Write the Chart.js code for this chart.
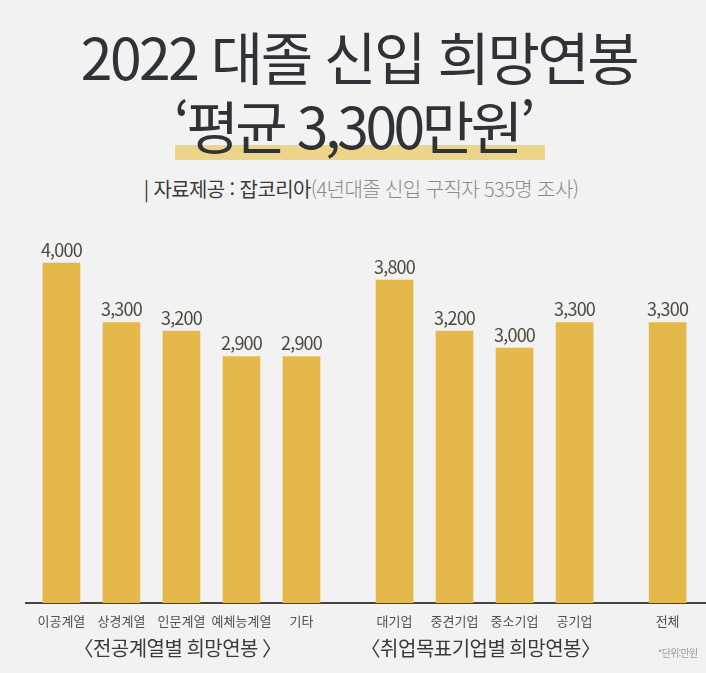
<!DOCTYPE html>
<html lang="ko">
<head>
<meta charset="utf-8">
<script src="https://cdn.jsdelivr.net/npm/chart.js@4/dist/chart.umd.min.js"></script>
<style>
  html, body { margin: 0; padding: 0; background: #f2f2f2; }
  #wrap { position: relative; width: 706px; height: 673px; overflow: hidden; background: #f2f2f2; font-family: "Noto Sans CJK KR", "Noto Sans", sans-serif; }
  .t { position: absolute; left: 0; width: 706px; text-align: center; white-space: nowrap; line-height: 1; }
  #t1 { top: 27px; left: 6px; font-size: 57px; font-weight: 400; color: #2f3337; letter-spacing: -2.5px; z-index: 2; }
  #t2 { top: 96px; left: 0px; font-size: 57px; font-weight: 400; color: #2f3337; letter-spacing: -3.5px; z-index: 2; }
  #hl { position: absolute; left: 175px; top: 145px; width: 370px; height: 15px; background: #ecd588; z-index: 1; }
  #t3 { top: 179px; left: 8px; font-size: 20px; letter-spacing: -0.6px; z-index: 2; }
  #t3 .a { color: #3a3a3a; font-weight: 400; }
  #t3 .b { color: #8a8a8a; font-weight: 300; }
  #cv { position: absolute; left: 0; top: 0; z-index: 3; }
</style>
</head>
<body>
<div id="wrap">
  <div id="hl"></div>
  <div class="t" id="t1">2022 대졸 신입 희망연봉</div>
  <div class="t" id="t2">‘평균 3,300만원’</div>
  <div class="t" id="t3"><span class="a">| 자료제공 : 잡코리아</span><span class="b">(4년대졸 신입 구직자 535명 조사)</span></div>
  <canvas id="cv" width="706" height="673"></canvas>
</div>
<script>
// ---- data ----
const categories = ['이공계열', '상경계열', '인문계열', '예체능계열', '기타', '대기업', '중견기업', '중소기업', '공기업', '전체'];
const values = [4000, 3300, 3200, 2900, 2900, 3800, 3200, 3000, 3300, 3300];
const groupOf = [0, 0, 0, 0, 0, 1, 1, 1, 1, 2];
const groupLabels = ['〈전공계열별 희망연봉 〉', '〈취업목표기업별 희망연봉〉', ''];
const unitNote = '*단위:만원';

// layout helper: category index plus a gap between groups
const GROUP_GAP = 0.55;
const positions = categories.map((c, i) => i + groupOf[i] * GROUP_GAP);

const FONT = '"Noto Sans CJK KR", "Noto Sans", sans-serif';

const labelPlugin = {
  id: 'labels',
  afterDatasetsDraw(chart) {
    const ctx = chart.ctx;
    const meta = chart.getDatasetMeta(0);
    const hasLS = 'letterSpacing' in ctx;
    ctx.save();
    ctx.font = '400 18px ' + FONT;
    ctx.fillStyle = '#4e4a3e';
    ctx.textAlign = 'center';
    ctx.textBaseline = 'bottom';
    if (hasLS) ctx.letterSpacing = '-0.8px';
    meta.data.forEach((bar, i) => {
      ctx.fillText(values[i].toLocaleString('en-US'), bar.x, bar.y - 4);
    });
    // group labels
    const xs = chart.scales.x;
    const area = chart.chartArea;
    ctx.font = '400 20px ' + FONT;
    ctx.fillStyle = '#3a3a3a';
    ctx.textBaseline = 'middle';
    if (hasLS) ctx.letterSpacing = '-0.5px';
    groupLabels.forEach((g, gi) => {
      if (!g) return;
      const idx = positions.filter((p, i) => groupOf[i] === gi);
      const cx = (xs.getPixelForValue(idx[0]) + xs.getPixelForValue(idx[idx.length - 1])) / 2;
      ctx.fillText(g, cx - 4, area.bottom + 45);
    });
    ctx.font = '400 10px ' + FONT;
    ctx.fillStyle = '#9a9a9a';
    if (hasLS) ctx.letterSpacing = '-0.8px';
    ctx.fillText(unitNote, xs.getPixelForValue(positions[positions.length - 1]) + 10, area.bottom + 50);
    ctx.restore();
  }
};

new Chart(document.getElementById('cv'), {
  type: 'bar',
  data: {
    datasets: [{
      data: values.map((v, i) => ({ x: positions[i], y: v })),
      backgroundColor: '#e4b84b',
      barThickness: 37
    }]
  },
  options: {
    responsive: false,
    animation: false,
    layout: { padding: { left: 26, right: 0, top: 229, bottom: 0 } },
    plugins: { legend: { display: false }, tooltip: { enabled: false } },
    scales: {
      x: {
        type: 'linear',
        offset: false,
        min: -0.59,
        max: 10.74,
        grid: { display: false, drawTicks: false, offset: false },
        border: { display: true, color: '#444444', width: 2 },
        afterBuildTicks: (scale) => { scale.ticks = positions.map(p => ({ value: p })); },
        afterFit: (scale) => { scale.height = 70; },
        ticks: {
          autoSkip: false,
          maxRotation: 0,
          padding: 10,
          color: '#505050',
          font: { family: FONT, size: 13 },
          callback: (v, i) => categories[i]
        }
      },
      y: {
        display: false,
        min: 0,
        max: 4400
      }
    }
  },
  plugins: [labelPlugin]
});
</script>
</body>
</html>
